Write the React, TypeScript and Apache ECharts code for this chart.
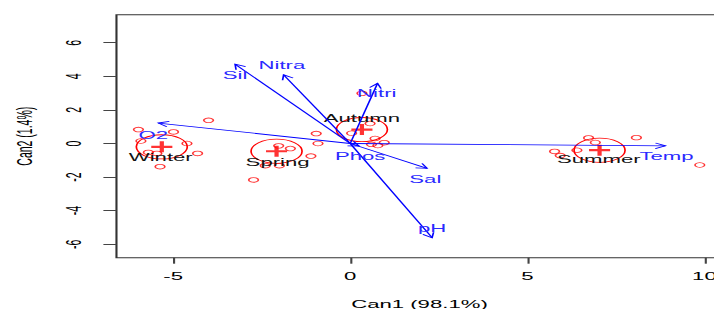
import { useEffect, useRef } from "react";
import * as echarts from "echarts";

// horizontal stretch of the reference picture
const SX = 2.11;
const LOCAL_W = 350;
const LOCAL_H = 309;

const FONT = "'Liberation Sans', Arial, sans-serif";
const FS = 10.5;

const xTicks = [-5, 0, 5, 10];
const yTicks = [-6, -4, -2, 0, 2, 4, 6];

const groupNames = ["Winter", "Spring", "Autumn", "Summer"];
const centroidX = [-5.32, -2.08, 0.33, 7.04];
const centroidY = [-0.2, -0.46, 0.83, -0.4];
const groupLabelX = [-5.35, -2.05, 0.33, 7.02];
const groupLabelY = [-0.83, -1.12, 1.48, -0.95];
const circleRadius = 0.72;

const winterX = [-5.98, -4.99, -5.91, -4.61, -4.31, -5.37, -4.0, -5.7, -5.46];
const winterY = [0.83, 0.69, 0.15, 0.0, -0.59, -1.38, 1.38, -0.53, -0.59];
const springX = [-0.96, -0.91, -1.11, -2.02, -1.69, -2.73, -2.4, -2.0];
const springY = [0.59, 0.0, -0.75, -0.14, -0.3, -2.17, -1.32, -1.32];
const autumnX = [0.33, 0.56, 0.04, 0.7, 0.96, 0.78, 0.6];
const autumnY = [2.99, 1.19, 0.61, 0.3, 0.05, -0.12, -0.05];
const summerX = [6.73, 6.92, 8.08, 5.77, 5.93, 6.4, 9.87];
const summerY = [0.33, 0.06, 0.35, -0.47, -0.72, -0.4, -1.28];

const vectorNames = ["Temp", "Sal", "O2", "Nitri", "Nitra", "Phos", "Sil", "pH"];
const vectorX = [8.9, 2.17, -5.42, 0.77, -1.88, 0.25, -3.25, 2.31];
const vectorY = [-0.14, -1.48, 1.22, 3.58, 4.09, -0.15, 4.72, -5.61];
const vectorLabelX = [8.93, 2.12, -5.56, 0.75, -1.93, 0.28, -3.25, 2.31];
const vectorLabelY = [-0.79, -2.11, 0.49, 2.99, 4.67, -0.79, 4.03, -5.08];

const RED = "#ff0000";
const BLUE = "#0000ff";
const BLUE_TEXT = "#2a2aff";

function zip(xs: number[], ys: number[]) {
  return xs.map((x, i) => [x, ys[i]]);
}

export default function App() {
  const ref = useRef<HTMLDivElement>(null);

  useEffect(() => {
    if (!ref.current) return;
    const chart = echarts.init(ref.current, undefined, { renderer: "svg" });

    const points = [
      ...zip(winterX, winterY),
      ...zip(springX, springY),
      ...zip(autumnX, autumnY),
      ...zip(summerX, summerY),
    ];
    const centroids = centroidX.map((x, i) => [x, centroidY[i]]);
    const groupLabels = groupLabelX.map((x, i) => [x, groupLabelY[i]]);
    const vectors = vectorX.map((x, i) => [x, vectorY[i]]);
    const vectorLabels = vectorLabelX.map((x, i) => [x, vectorLabelY[i]]);

    const option: any = {
      animation: false,
      grid: {
        left: 55.2,
        right: LOCAL_W - 342.4,
        top: 14.7,
        bottom: LOCAL_H - 257.7,
        show: true,
        borderColor: "#333",
        borderWidth: 1,
        backgroundColor: "transparent",
        containLabel: false,
        outerBoundsMode: "none",
      },
      xAxis: {
        type: "value",
        min: -6.6,
        max: 10.51,
        position: "bottom",
        axisLine: { show: false, onZero: false },
        splitLine: { show: false },
        axisTick: {
          show: true,
          customValues: xTicks,
          length: 6,
          lineStyle: { color: "#444", width: 1 },
        },
        axisLabel: {
          customValues: xTicks,
          fontSize: FS,
          fontFamily: FONT,
          color: "#000",
          margin: 13,
        },
        name: "Can1 (98.1%)",
        nameLocation: "middle",
        nameGap: 41,
        nameTextStyle: { fontSize: FS, fontFamily: FONT, color: "#000" },
      },
      yAxis: {
        type: "value",
        min: -6.8,
        max: 7.67,
        position: "left",
        axisLine: { show: false, onZero: false },
        splitLine: { show: false },
        axisTick: {
          show: true,
          customValues: yTicks,
          length: 6.2,
          lineStyle: { color: "#444", width: 1 },
        },
        axisLabel: {
          customValues: yTicks,
          rotate: 90,
          fontSize: FS,
          fontFamily: FONT,
          color: "#000",
          margin: 15,
        },
        name: "Can2 (1.4%)",
        nameLocation: "middle",
        nameRotate: 90,
        nameGap: 38,
        nameTextStyle: { fontSize: FS, fontFamily: FONT, color: "#000" },
      },
      series: [
        {
          type: "scatter",
          data: points,
          symbol: "circle",
          symbolSize: 4.6,
          itemStyle: { color: "transparent", borderColor: RED, borderWidth: 0.8 },
          z: 2,
        },
        {
          type: "custom",
          data: centroids,
          renderItem: (_p: any, api: any) => {
            const c = api.coord([api.value(0), api.value(1)]);
            const s = api.size([circleRadius, circleRadius]);
            return {
              type: "ellipse",
              shape: { cx: c[0], cy: c[1], rx: s[0], ry: s[1] },
              style: { fill: "none", stroke: RED, lineWidth: 0.8 },
            };
          },
          z: 3,
        },
        {
          type: "scatter",
          data: centroids,
          symbol: "path://M4,0H6V4H10V6H6V10H4V6H0V4H4Z",
          symbolSize: [10, 11],
          itemStyle: { color: RED },
          z: 4,
        },
        {
          type: "custom",
          data: groupLabels,
          renderItem: (p: any, api: any) => {
            const c = api.coord([api.value(0), api.value(1)]);
            return {
              type: "text",
              x: c[0],
              y: c[1],
              style: {
                text: groupNames[p.dataIndex],
                fill: "#111",
                font: `${FS}px ${FONT}`,
                align: "center",
                verticalAlign: "middle",
              },
            };
          },
          z: 5,
        },
        {
          type: "custom",
          data: vectors,
          renderItem: (_p: any, api: any) => {
            const o = api.coord([0, 0]);
            const e = api.coord([api.value(0), api.value(1)]);
            const ang = Math.atan2(e[1] - o[1], e[0] - o[0]);
            const L = 5.5;
            const a = Math.PI / 6;
            const h1 = [e[0] - L * Math.cos(ang - a), e[1] - L * Math.sin(ang - a)];
            const h2 = [e[0] - L * Math.cos(ang + a), e[1] - L * Math.sin(ang + a)];
            return {
              type: "group",
              children: [
                {
                  type: "line",
                  shape: { x1: o[0], y1: o[1], x2: e[0], y2: e[1] },
                  style: { stroke: BLUE, lineWidth: 0.8 },
                },
                {
                  type: "polyline",
                  shape: { points: [h1, e, h2] },
                  style: { stroke: BLUE, lineWidth: 0.8, fill: "none" },
                },
              ],
            };
          },
          z: 6,
        },
        {
          type: "custom",
          data: vectorLabels,
          renderItem: (p: any, api: any) => {
            const c = api.coord([api.value(0), api.value(1)]);
            return {
              type: "text",
              x: c[0],
              y: c[1],
              style: {
                text: vectorNames[p.dataIndex],
                fill: BLUE_TEXT,
                font: `${FS}px ${FONT}`,
                align: "center",
                verticalAlign: "middle",
              },
            };
          },
          z: 7,
        },
      ],
    };

    chart.setOption(option);
    return () => chart.dispose();
  }, []);

  return (
    <div
      style={{
        position: "fixed",
        left: 0,
        top: 0,
        width: 714,
        height: 309,
        overflow: "hidden",
        background: "#fff",
      }}
    >
      <div
        ref={ref}
        style={{
          width: LOCAL_W,
          height: LOCAL_H,
          transform: `scale(${SX}, 1)`,
          transformOrigin: "0 0",
        }}
      />
    </div>
  );
}
